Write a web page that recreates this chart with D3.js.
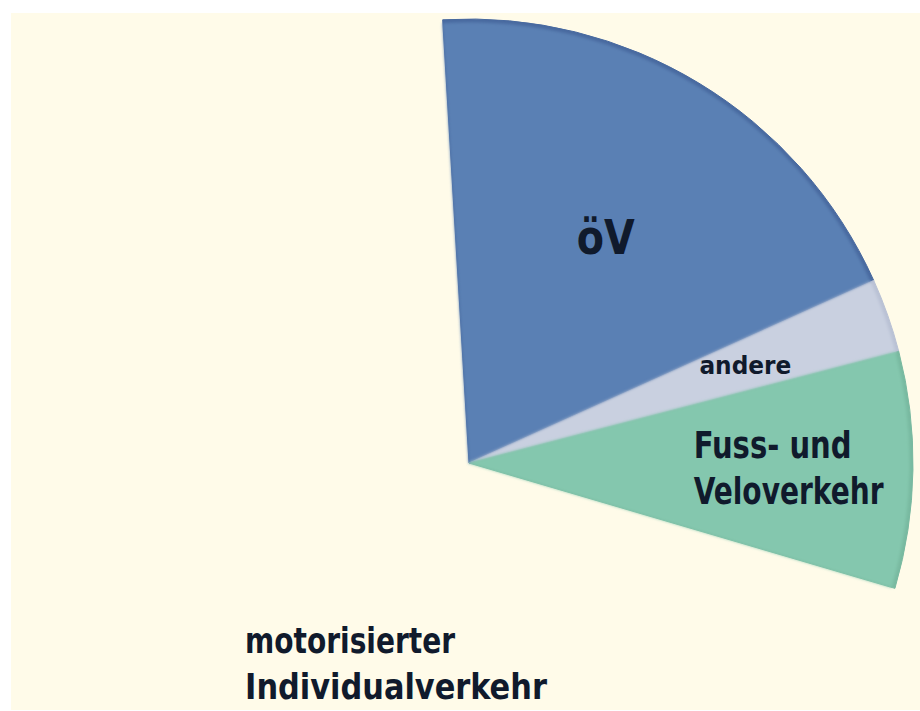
<!DOCTYPE html>
<html>
<head>
<meta charset="utf-8">
<script src="https://cdn.jsdelivr.net/npm/d3@7"></script>
<style>
  html, body { margin: 0; padding: 0; background: #ffffff; }
  svg text { font-family: "DejaVu Sans Condensed", "DejaVu Sans", sans-serif; font-weight: bold; fill: #101a2c; }
</style>
</head>
<body>
<div id="chart"></div>
<script>
// shares of trips by mode (%)
var categories = ['öV', 'andere', 'Fuss- und Veloverkehr', 'motorisierter Individualverkehr'];
var shares = [19.2, 2.7, 8.6, 69.5];
var labelLines = [['öV'], ['andere'], ['Fuss- und', 'Veloverkehr'], ['motorisierter', 'Individualverkehr']];
var colours = ['#5a80b4', '#c9d0e0', '#84c7ae', '#fffbe9'];
var rims = ['#48699f', '#b9c1d4', '#78b9a0', '#fffbe9'];

var width = 920, height = 711;
var bg = {x: 11, y: 13, w: 909, h: 697};
var cx = 469, cy = 463, radius = 444;

var svg = d3.select('#chart').append('svg')
  .attr('width', width)
  .attr('height', height);

var defs = svg.append('defs');
defs.append('clipPath').attr('id', 'frame')
  .append('rect')
  .attr('x', bg.x).attr('y', bg.y).attr('width', bg.w).attr('height', bg.h);
defs.append('filter').attr('id', 'soft')
  .append('feGaussianBlur').attr('stdDeviation', 1.6);

svg.append('rect')
  .attr('x', bg.x).attr('y', bg.y)
  .attr('width', bg.w).attr('height', bg.h)
  .attr('fill', '#fffbe9');

var data = categories.map(function(c, i) {
  return {name: c, value: shares[i], lines: labelLines[i], colour: colours[i], rim: rims[i]};
});

// starts a little left of north, clockwise
var pie = d3.pie()
  .sort(null)
  .value(function(d) { return d.value; })
  .startAngle(-3.4 * Math.PI / 180)
  .endAngle(2 * Math.PI - 3.4 * Math.PI / 180);

var arc = d3.arc().innerRadius(0).outerRadius(radius);

var g = svg.append('g')
  .attr('clip-path', 'url(#frame)')
  .append('g')
  .attr('transform', 'translate(' + cx + ',' + cy + ')');

var labels = svg.append('g')
  .attr('transform', 'translate(' + cx + ',' + cy + ')');

var arcs = pie(data);

// soft darker rim, then the fill on top, a bit inset
g.selectAll('path.rim')
  .data(arcs.slice(0, 3))
  .enter()
  .append('path')
  .attr('class', 'rim')
  .attr('d', arc)
  .attr('fill', function(d) { return d.data.rim; })
  .attr('stroke', function(d) { return d.data.rim; })
  .attr('stroke-width', 1);

g.selectAll('path.slice')
  .data(arcs.slice(0, 3))
  .enter()
  .append('path')
  .attr('class', 'slice')
  .attr('d', arc)
  .attr('fill', function(d) { return d.data.colour; })
  .attr('stroke', function(d) { return d.data.colour; })
  .attr('stroke-width', 0.5)
  .attr('transform', 'scale(0.992)')
  .attr('filter', 'url(#soft)');

// label placement: radius as fraction of R, angle (deg, clockwise from north) or centroid
var labelPos = [
  {r: 0.595, a: null, size: 48, lh: 0, widths: [58], anchor: 'middle'},
  {r: 0.66, a: null, size: 25, lh: 0, widths: [92], anchor: 'middle'},
  {r: 0.72, a: null, size: 38, lh: 46, widths: [158, 190], anchor: 'start'},
  {r: 0.48, a: 200, size: 36, lh: 46, widths: [210, 302], anchor: 'start'}
];

arcs.forEach(function(d, i) {
  var p = labelPos[i];
  var ang = p.a === null ? (d.startAngle + d.endAngle) / 2 : p.a * Math.PI / 180;
  var x = Math.sin(ang) * radius * p.r;
  var y = -Math.cos(ang) * radius * p.r;
  if (p.anchor === 'start') x -= d3.max(p.widths) / 2;
  var n = d.data.lines.length;
  d.data.lines.forEach(function(line, j) {
    var ly = y + (j - (n - 1) / 2) * p.lh + p.size * 0.35;
    var t = labels.append('text')
      .attr('x', 0)
      .attr('y', 0)
      .attr('font-size', p.size)
      .attr('text-anchor', p.anchor)
      .text(line);
    // squeeze horizontally to the handwritten width
    var sx = p.widths[j] / t.node().getComputedTextLength();
    t.attr('transform', 'translate(' + x + ',' + ly + ') scale(' + sx + ',1)');
  });
});
</script>
</body>
</html>
